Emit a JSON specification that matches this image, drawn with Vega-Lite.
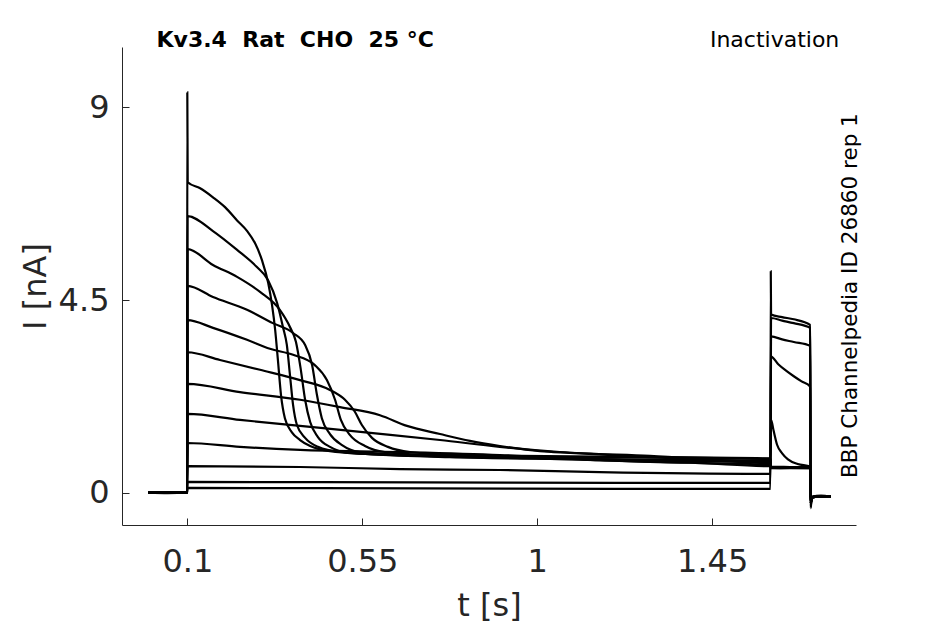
{
  "$schema": "https://vega.github.io/schema/vega-lite/v6.json",
  "description": "Kv3.4 inactivation protocol current traces",
  "width": 734,
  "height": 478,
  "autosize": {"type": "none"},
  "padding": {"left": 122, "top": 47, "right": 89, "bottom": 99},
  "background": "white",
  "resolve": {"axis": {"x": "independent", "y": "independent"}},
  "layer": [
    {
      "data": {
        "values": [
          {"k": 1, "t": 0, "I": 0}, {"k": 1, "t": 0.05, "I": -0.01}, {"k": 1, "t": 0.0995, "I": 0},
          {"k": 1, "t": 0.1, "I": 9.35}, {"k": 1, "t": 0.101, "I": 7.25}, {"k": 1, "t": 0.133, "I": 7.11},
          {"k": 1, "t": 0.166, "I": 6.9}, {"k": 1, "t": 0.197, "I": 6.67}, {"k": 1, "t": 0.228, "I": 6.36},
          {"k": 1, "t": 0.254, "I": 6.11}, {"k": 1, "t": 0.274, "I": 5.83}, {"k": 1, "t": 0.292, "I": 5.43},
          {"k": 1, "t": 0.308, "I": 4.9}, {"k": 1, "t": 0.318, "I": 4.38}, {"k": 1, "t": 0.326, "I": 3.8},
          {"k": 1, "t": 0.333, "I": 3.1}, {"k": 1, "t": 0.341, "I": 2.28}, {"k": 1, "t": 0.351, "I": 1.74},
          {"k": 1, "t": 0.369, "I": 1.41}, {"k": 1, "t": 0.39, "I": 1.23}, {"k": 1, "t": 0.416, "I": 1.09},
          {"k": 1, "t": 0.467, "I": 0.97}, {"k": 1, "t": 0.57, "I": 0.9}, {"k": 1, "t": 0.775, "I": 0.83},
          {"k": 1, "t": 1.033, "I": 0.79}, {"k": 1, "t": 1.29, "I": 0.77}, {"k": 1, "t": 1.6, "I": 0.74},
          {"k": 1, "t": 1.6015, "I": 0.6}, {"k": 1, "t": 1.65, "I": 0.59}, {"k": 1, "t": 1.702, "I": 0.58},
          {"k": 1, "t": 1.7035, "I": -0.25}, {"k": 1, "t": 1.706, "I": -0.11}, {"k": 1, "t": 1.73, "I": -0.08},
          {"k": 1, "t": 1.755, "I": -0.09},

          {"k": 2, "t": 0, "I": 0}, {"k": 2, "t": 0.05, "I": 0}, {"k": 2, "t": 0.0995, "I": 0},
          {"k": 2, "t": 0.1005, "I": 6.46}, {"k": 2, "t": 0.166, "I": 6.11}, {"k": 2, "t": 0.228, "I": 5.67},
          {"k": 2, "t": 0.279, "I": 5.27}, {"k": 2, "t": 0.3075, "I": 4.97}, {"k": 2, "t": 0.331, "I": 4.43},
          {"k": 2, "t": 0.346, "I": 3.87}, {"k": 2, "t": 0.356, "I": 3.45}, {"k": 2, "t": 0.364, "I": 2.75},
          {"k": 2, "t": 0.372, "I": 2.05}, {"k": 2, "t": 0.382, "I": 1.58}, {"k": 2, "t": 0.403, "I": 1.28},
          {"k": 2, "t": 0.436, "I": 1.07}, {"k": 2, "t": 0.493, "I": 0.95}, {"k": 2, "t": 0.647, "I": 0.88},
          {"k": 2, "t": 0.904, "I": 0.83}, {"k": 2, "t": 1.161, "I": 0.83}, {"k": 2, "t": 1.6, "I": 0.79},
          {"k": 2, "t": 1.6015, "I": 0.61}, {"k": 2, "t": 1.65, "I": 0.6}, {"k": 2, "t": 1.702, "I": 0.59},
          {"k": 2, "t": 1.7035, "I": -0.25}, {"k": 2, "t": 1.706, "I": -0.1}, {"k": 2, "t": 1.73, "I": -0.07},
          {"k": 2, "t": 1.755, "I": -0.1},

          {"k": 3, "t": 0, "I": 0}, {"k": 3, "t": 0.05, "I": 0}, {"k": 3, "t": 0.0995, "I": 0},
          {"k": 3, "t": 0.1005, "I": 5.69}, {"k": 3, "t": 0.166, "I": 5.32}, {"k": 3, "t": 0.228, "I": 5.04},
          {"k": 3, "t": 0.287, "I": 4.69}, {"k": 3, "t": 0.338, "I": 4.27}, {"k": 3, "t": 0.364, "I": 3.87},
          {"k": 3, "t": 0.3795, "I": 3.52}, {"k": 3, "t": 0.392, "I": 2.87}, {"k": 3, "t": 0.403, "I": 2.17},
          {"k": 3, "t": 0.416, "I": 1.65}, {"k": 3, "t": 0.436, "I": 1.3}, {"k": 3, "t": 0.467, "I": 1.07},
          {"k": 3, "t": 0.518, "I": 0.93}, {"k": 3, "t": 0.698, "I": 0.86}, {"k": 3, "t": 0.956, "I": 0.81},
          {"k": 3, "t": 1.29, "I": 0.76}, {"k": 3, "t": 1.6, "I": 0.69},
          {"k": 3, "t": 1.6015, "I": 0.58}, {"k": 3, "t": 1.65, "I": 0.57}, {"k": 3, "t": 1.702, "I": 0.58},
          {"k": 3, "t": 1.7035, "I": -0.25}, {"k": 3, "t": 1.706, "I": -0.11}, {"k": 3, "t": 1.73, "I": -0.09},
          {"k": 3, "t": 1.755, "I": -0.08},

          {"k": 4, "t": 0, "I": 0}, {"k": 4, "t": 0.05, "I": 0}, {"k": 4, "t": 0.0995, "I": 0},
          {"k": 4, "t": 0.1005, "I": 4.83}, {"k": 4, "t": 0.166, "I": 4.57}, {"k": 4, "t": 0.2535, "I": 4.27},
          {"k": 4, "t": 0.32, "I": 3.96}, {"k": 4, "t": 0.372, "I": 3.73}, {"k": 4, "t": 0.403, "I": 3.45},
          {"k": 4, "t": 0.421, "I": 2.98}, {"k": 4, "t": 0.4335, "I": 2.28}, {"k": 4, "t": 0.446, "I": 1.74},
          {"k": 4, "t": 0.467, "I": 1.37}, {"k": 4, "t": 0.498, "I": 1.11}, {"k": 4, "t": 0.544, "I": 0.95},
          {"k": 4, "t": 0.698, "I": 0.88}, {"k": 4, "t": 0.956, "I": 0.86}, {"k": 4, "t": 1.29, "I": 0.83},
          {"k": 4, "t": 1.6, "I": 0.8},
          {"k": 4, "t": 1.6015, "I": 0.6}, {"k": 4, "t": 1.65, "I": 0.6}, {"k": 4, "t": 1.702, "I": 0.59},
          {"k": 4, "t": 1.7035, "I": -0.25}, {"k": 4, "t": 1.706, "I": -0.1}, {"k": 4, "t": 1.73, "I": -0.08},
          {"k": 4, "t": 1.755, "I": -0.1},

          {"k": 5, "t": 0, "I": 0}, {"k": 5, "t": 0.05, "I": 0}, {"k": 5, "t": 0.0995, "I": 0},
          {"k": 5, "t": 0.1005, "I": 4.03}, {"k": 5, "t": 0.166, "I": 3.85}, {"k": 5, "t": 0.2535, "I": 3.57},
          {"k": 5, "t": 0.3126, "I": 3.36}, {"k": 5, "t": 0.372, "I": 3.22}, {"k": 5, "t": 0.428, "I": 2.98},
          {"k": 5, "t": 0.459, "I": 2.63}, {"k": 5, "t": 0.48, "I": 2.17}, {"k": 5, "t": 0.495, "I": 1.7},
          {"k": 5, "t": 0.518, "I": 1.35}, {"k": 5, "t": 0.557, "I": 1.09}, {"k": 5, "t": 0.608, "I": 0.95},
          {"k": 5, "t": 0.775, "I": 0.86}, {"k": 5, "t": 1.033, "I": 0.79}, {"k": 5, "t": 1.29, "I": 0.72},
          {"k": 5, "t": 1.6, "I": 0.65},
          {"k": 5, "t": 1.6015, "I": 0.57}, {"k": 5, "t": 1.65, "I": 0.58}, {"k": 5, "t": 1.702, "I": 0.57},
          {"k": 5, "t": 1.7035, "I": -0.25}, {"k": 5, "t": 1.706, "I": -0.12}, {"k": 5, "t": 1.73, "I": -0.08},
          {"k": 5, "t": 1.755, "I": -0.09},

          {"k": 6, "t": 0, "I": 0}, {"k": 6, "t": 0.05, "I": 0}, {"k": 6, "t": 0.0995, "I": 0},
          {"k": 6, "t": 0.1005, "I": 3.28}, {"k": 6, "t": 0.184, "I": 3.1}, {"k": 6, "t": 0.287, "I": 2.87},
          {"k": 6, "t": 0.39, "I": 2.63}, {"k": 6, "t": 0.467, "I": 2.4}, {"k": 6, "t": 0.5055, "I": 2.17},
          {"k": 6, "t": 0.531, "I": 1.89}, {"k": 6, "t": 0.549, "I": 1.58}, {"k": 6, "t": 0.575, "I": 1.28},
          {"k": 6, "t": 0.616, "I": 1.07}, {"k": 6, "t": 0.673, "I": 0.95}, {"k": 6, "t": 0.853, "I": 0.86},
          {"k": 6, "t": 1.11, "I": 0.79}, {"k": 6, "t": 1.367, "I": 0.74}, {"k": 6, "t": 1.6, "I": 0.76},
          {"k": 6, "t": 1.6015, "I": 0.59}, {"k": 6, "t": 1.65, "I": 0.59}, {"k": 6, "t": 1.702, "I": 0.6},
          {"k": 6, "t": 1.7035, "I": -0.25}, {"k": 6, "t": 1.706, "I": -0.1}, {"k": 6, "t": 1.73, "I": -0.09},
          {"k": 6, "t": 1.755, "I": -0.1},

          {"k": 7, "t": 0, "I": 0}, {"k": 7, "t": 0.05, "I": 0}, {"k": 7, "t": 0.0995, "I": 0},
          {"k": 7, "t": 0.1005, "I": 2.54}, {"k": 7, "t": 0.2355, "I": 2.35}, {"k": 7, "t": 0.39, "I": 2.17},
          {"k": 7, "t": 0.493, "I": 2.0}, {"k": 7, "t": 0.5955, "I": 1.81}, {"k": 7, "t": 0.665, "I": 1.56},
          {"k": 7, "t": 0.75, "I": 1.37}, {"k": 7, "t": 0.827, "I": 1.21}, {"k": 7, "t": 0.904, "I": 1.09},
          {"k": 7, "t": 1.007, "I": 0.97}, {"k": 7, "t": 1.084, "I": 0.93}, {"k": 7, "t": 1.29, "I": 0.83},
          {"k": 7, "t": 1.6, "I": 0.67},
          {"k": 7, "t": 1.6015, "I": 0.6}, {"k": 7, "t": 1.65, "I": 0.58}, {"k": 7, "t": 1.702, "I": 0.58},
          {"k": 7, "t": 1.7035, "I": -0.25}, {"k": 7, "t": 1.706, "I": -0.11}, {"k": 7, "t": 1.73, "I": -0.08},
          {"k": 7, "t": 1.755, "I": -0.09},

          {"k": 8, "t": 0, "I": 0}, {"k": 8, "t": 0.05, "I": 0}, {"k": 8, "t": 0.0995, "I": 0},
          {"k": 8, "t": 0.1005, "I": 1.84}, {"k": 8, "t": 0.2355, "I": 1.7}, {"k": 8, "t": 0.39, "I": 1.56},
          {"k": 8, "t": 0.5775, "I": 1.39}, {"k": 8, "t": 0.75, "I": 1.23}, {"k": 8, "t": 0.904, "I": 1.07},
          {"k": 8, "t": 1.058, "I": 0.95}, {"k": 8, "t": 1.29, "I": 0.86}, {"k": 8, "t": 1.6, "I": 0.72},
          {"k": 8, "t": 1.6015, "I": 1.7}, {"k": 8, "t": 1.608, "I": 1.45}, {"k": 8, "t": 1.617, "I": 1.12},
          {"k": 8, "t": 1.63, "I": 0.92}, {"k": 8, "t": 1.645, "I": 0.78}, {"k": 8, "t": 1.67, "I": 0.67},
          {"k": 8, "t": 1.702, "I": 0.61},
          {"k": 8, "t": 1.7035, "I": -0.25}, {"k": 8, "t": 1.706, "I": -0.1}, {"k": 8, "t": 1.73, "I": -0.08},
          {"k": 8, "t": 1.755, "I": -0.1},

          {"k": 9, "t": 0, "I": 0}, {"k": 9, "t": 0.05, "I": 0}, {"k": 9, "t": 0.0995, "I": 0},
          {"k": 9, "t": 0.1005, "I": 1.16}, {"k": 9, "t": 0.2355, "I": 1.07}, {"k": 9, "t": 0.39, "I": 1.0},
          {"k": 9, "t": 0.647, "I": 0.95}, {"k": 9, "t": 0.904, "I": 0.88}, {"k": 9, "t": 1.161, "I": 0.76},
          {"k": 9, "t": 1.418, "I": 0.69}, {"k": 9, "t": 1.6, "I": 0.62},
          {"k": 9, "t": 1.6015, "I": 3.18}, {"k": 9, "t": 1.62, "I": 3.0}, {"k": 9, "t": 1.64, "I": 2.85},
          {"k": 9, "t": 1.66, "I": 2.72}, {"k": 9, "t": 1.68, "I": 2.6}, {"k": 9, "t": 1.702, "I": 2.48},
          {"k": 9, "t": 1.7035, "I": -0.28}, {"k": 9, "t": 1.706, "I": -0.11}, {"k": 9, "t": 1.73, "I": -0.08},
          {"k": 9, "t": 1.755, "I": -0.09},

          {"k": 10, "t": 0, "I": 0}, {"k": 10, "t": 0.05, "I": 0}, {"k": 10, "t": 0.0995, "I": 0},
          {"k": 10, "t": 0.1005, "I": 0.62}, {"k": 10, "t": 0.39, "I": 0.6}, {"k": 10, "t": 0.647, "I": 0.55},
          {"k": 10, "t": 0.904, "I": 0.53}, {"k": 10, "t": 1.161, "I": 0.48}, {"k": 10, "t": 1.6, "I": 0.44},
          {"k": 10, "t": 1.6015, "I": 3.65}, {"k": 10, "t": 1.63, "I": 3.58}, {"k": 10, "t": 1.66, "I": 3.52},
          {"k": 10, "t": 1.702, "I": 3.43},
          {"k": 10, "t": 1.7035, "I": -0.3}, {"k": 10, "t": 1.706, "I": -0.1}, {"k": 10, "t": 1.73, "I": -0.08},
          {"k": 10, "t": 1.755, "I": -0.1},

          {"k": 11, "t": 0, "I": 0}, {"k": 11, "t": 0.05, "I": 0}, {"k": 11, "t": 0.0995, "I": 0},
          {"k": 11, "t": 0.1005, "I": 0.25}, {"k": 11, "t": 0.7, "I": 0.24}, {"k": 11, "t": 1.2, "I": 0.23},
          {"k": 11, "t": 1.6, "I": 0.23},
          {"k": 11, "t": 1.6015, "I": 4.08}, {"k": 11, "t": 1.63, "I": 4.02}, {"k": 11, "t": 1.66, "I": 3.96},
          {"k": 11, "t": 1.702, "I": 3.85},
          {"k": 11, "t": 1.7035, "I": -0.32}, {"k": 11, "t": 1.706, "I": -0.12}, {"k": 11, "t": 1.73, "I": -0.08},
          {"k": 11, "t": 1.755, "I": -0.09},

          {"k": 12, "t": 0, "I": 0}, {"k": 12, "t": 0.05, "I": 0}, {"k": 12, "t": 0.0995, "I": 0},
          {"k": 12, "t": 0.1005, "I": 0.11}, {"k": 12, "t": 0.7, "I": 0.1}, {"k": 12, "t": 1.2, "I": 0.09},
          {"k": 12, "t": 1.6, "I": 0.09}, {"k": 12, "t": 1.6008, "I": 5.17},
          {"k": 12, "t": 1.6015, "I": 4.16}, {"k": 12, "t": 1.63, "I": 4.1}, {"k": 12, "t": 1.66, "I": 4.05},
          {"k": 12, "t": 1.702, "I": 3.92},
          {"k": 12, "t": 1.7035, "I": -0.36}, {"k": 12, "t": 1.706, "I": -0.12}, {"k": 12, "t": 1.73, "I": -0.08},
          {"k": 12, "t": 1.755, "I": -0.1}
        ]
      },
      "mark": {"type": "line", "color": "black", "strokeWidth": 2.2, "interpolate": "monotone"},
      "encoding": {
        "x": {
          "field": "t",
          "type": "quantitative",
          "scale": {"domain": [-0.068, 1.82], "nice": false, "zero": false},
          "axis": {
            "values": [0.1, 0.55, 1, 1.45],
            "format": ".3~g",
            "title": "t [s]",
            "labelPadding": 28,
            "titleX": 367,
            "titleY": 90,
            "titleBaseline": "alphabetic"
          }
        },
        "y": {
          "field": "I",
          "type": "quantitative",
          "scale": {"domain": [-0.755, 10.41], "nice": false, "zero": false},
          "axis": {
            "values": [0, 4.5, 9],
            "format": ".3~g",
            "title": "I [nA]",
            "labelPadding": 20,
            "titleX": -77,
            "titleY": 239,
            "titleAngle": 270,
            "titleBaseline": "alphabetic"
          }
        },
        "detail": {"field": "k", "type": "nominal"}
      }
    },
    {
      "data": {"values": [{"label": "Kv3.4\u00a0\u00a0Rat\u00a0\u00a0CHO\u00a0\u00a025 °C"}]},
      "mark": {"type": "text", "align": "left", "baseline": "alphabetic", "fontSize": 22, "fontWeight": "bold", "color": "black", "font": "DejaVu Sans"},
      "encoding": {
        "text": {"field": "label"},
        "x": {"datum": 0.0208, "type": "quantitative", "axis": null},
        "y": {"datum": 10.416, "type": "quantitative", "axis": null}
      }
    },
    {
      "data": {"values": [{"label": "Inactivation"}]},
      "mark": {"type": "text", "align": "right", "baseline": "alphabetic", "fontSize": 22, "color": "black", "font": "DejaVu Sans"},
      "encoding": {
        "text": {"field": "label"},
        "x": {"datum": 1.777, "type": "quantitative", "axis": null},
        "y": {"datum": 10.416, "type": "quantitative", "axis": null}
      }
    },
    {
      "data": {"values": [{"label": "BBP Channelpedia ID 26860 rep 1"}]},
      "mark": {"type": "text", "align": "left", "baseline": "alphabetic", "angle": 270, "fontSize": 21.5, "color": "black", "font": "DejaVu Sans"},
      "encoding": {
        "text": {"field": "label"},
        "x": {"datum": 1.8233, "type": "quantitative", "axis": null},
        "y": {"datum": 0.343, "type": "quantitative", "axis": null}
      }
    }
  ],
  "config": {
    "font": "DejaVu Sans",
    "view": {"stroke": null},
    "axis": {
      "grid": false,
      "domainColor": "#262626",
      "domainWidth": 1,
      "tickColor": "#262626",
      "tickWidth": 1,
      "tickSize": -7,
      "labelFont": "DejaVu Sans",
      "labelFontSize": 32,
      "labelColor": "#262626",
      "titleFont": "DejaVu Sans",
      "titleFontSize": 32,
      "titleFontWeight": "normal",
      "titleColor": "#262626"
    }
  }
}
